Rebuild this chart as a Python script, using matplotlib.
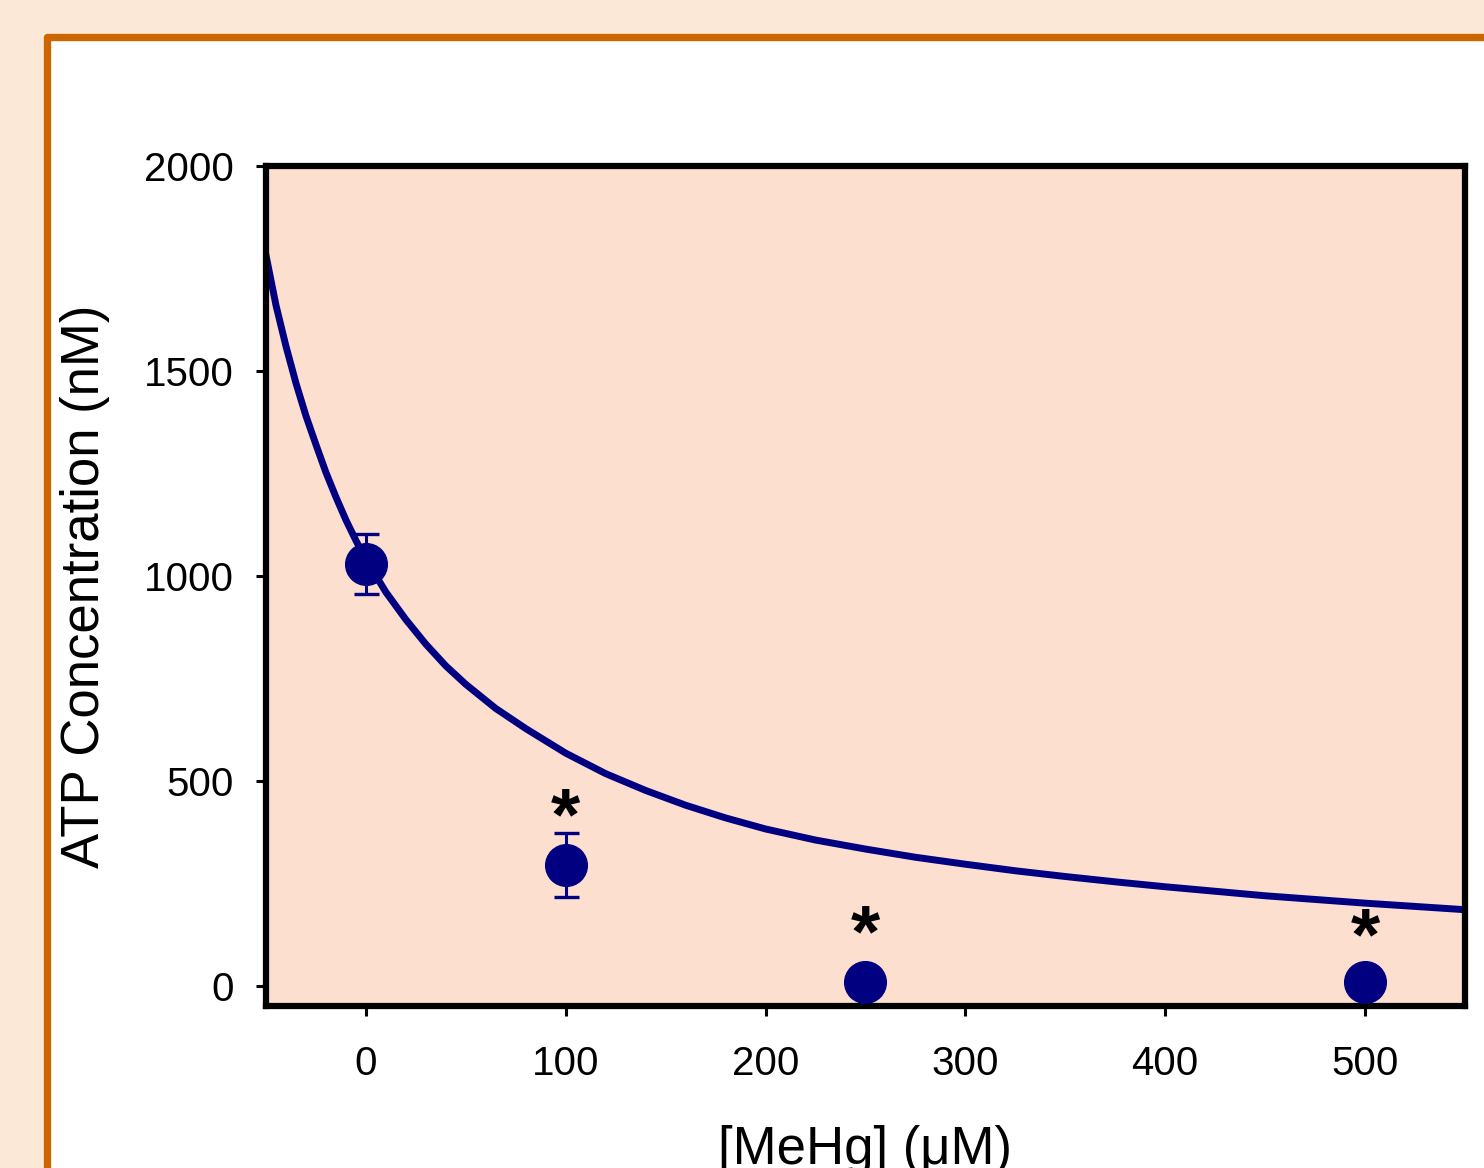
import numpy as np
import matplotlib.pyplot as plt
from matplotlib.patches import Rectangle

plt.rcParams['font.family'] = ['Liberation Sans', 'DejaVu Sans']

# measured ATP concentration (mean +/- error)
mehg = [0, 100, 250, 500]
atp = [1028, 295, 8, 8]
atp_err = [73, 78, 0, 0]

# significance marks
star_x = [100, 250, 500]
star_y = [405, 118, 112]

# fitted curve
curve_x = [-50, -45, -40, -35, -30, -25, -20, -15, -10, -5, 0, 10, 20, 30, 40, 50,
           65, 80, 100, 120, 140, 160, 180, 200, 225, 250, 275, 300, 325, 350,
           375, 400, 425, 450, 475, 500, 525, 550]
curve_y = [1782, 1660, 1560, 1470, 1390, 1320, 1252, 1192, 1136, 1086, 1040, 960,
           893, 833, 780, 735, 676, 627, 567, 517, 476, 440, 409, 382, 355, 333,
           313, 296, 280, 266, 253, 241, 230, 219, 210, 201, 193, 185]

navy = '#000080'

fig = plt.figure(figsize=(14.84, 11.68), dpi=100)
fig.patch.set_facecolor('#FCE8D6')

# orange frame of the panel
frame = Rectangle((47 / 1484, -0.1), 1.2, 1.1 - 37 / 1168, transform=fig.transFigure,
                  facecolor='white', edgecolor='#CC6600', lw=5.3, joinstyle='round',
                  zorder=-5)
fig.patches.append(frame)

ax = fig.add_axes([266 / 1484, 1 - 1006 / 1168, (1465 - 266) / 1484, (1006 - 166) / 1168])
ax.set_zorder(2)
ax.set_facecolor('#FDDFCF')

ax.plot(curve_x, curve_y, color=navy, lw=5, zorder=2, solid_joinstyle='round')
ax.errorbar(mehg, atp, yerr=atp_err, fmt='o', color=navy, ms=30, mec=navy,
            elinewidth=2.2, capsize=9, capthick=2.4, zorder=3)

for sx, sy in zip(star_x, star_y):
    ax.text(sx, sy, '*', ha='center', va='center', fontsize=54, fontweight='bold',
            color='black', zorder=4)

ax.set_xlim(-50, 550)
ax.set_ylim(-50, 2000)
ax.set_xticks([0, 100, 200, 300, 400, 500])
ax.set_yticks([0, 500, 1000, 1500, 2000])

for s in ax.spines.values():
    s.set_linewidth(4.5)
ax.tick_params(direction='out', length=7, width=2.2, labelsize=29)
ax.tick_params(axis='x', pad=21)
ax.tick_params(axis='y', pad=16)

fig.text(85 / 1484, 1 - 586 / 1168, 'ATP Concentration (nM)', rotation=90,
         ha='center', va='center', fontsize=38)
fig.text(865.5 / 1484, 1 - 1125 / 1168, '[MeHg] (\u03bcM)', ha='center', va='top',
         fontsize=38)

fig.savefig('out.png', dpi=100, facecolor=fig.get_facecolor())
